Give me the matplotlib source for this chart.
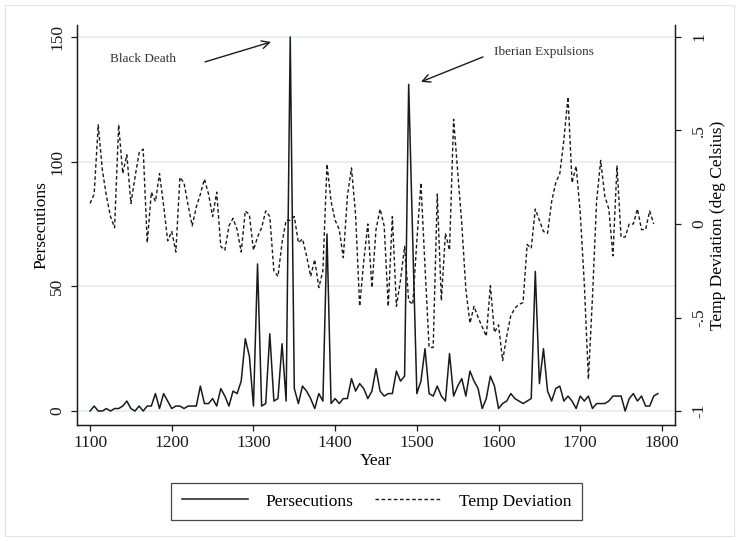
import numpy as np
import matplotlib
matplotlib.use("Agg")
import matplotlib.pyplot as plt
from matplotlib.patches import Rectangle

# ---------------- data ----------------
years_pers = np.arange(1100, 1800, 5)
persecutions = [
    0, 2, 0, 0, 1, 0, 1, 1, 2, 4, 1, 0, 2, 0, 2, 2, 7, 1, 7, 4,          # 1100-1195
    1, 2, 2, 1, 2, 2, 2, 10, 3, 3, 5, 2, 9, 6, 2, 8, 7, 12, 29, 22,      # 1200-1295
    2, 59, 2, 3, 31, 4, 5, 27, 4, 150, 9, 3, 10, 8, 5, 1, 7, 4, 71, 3,   # 1300-1395
    5, 3, 5, 5, 13, 8, 11, 9, 5, 8, 17, 8, 6, 7, 7, 16, 12, 14, 131, 68, # 1400-1495
    7, 12, 25, 7, 6, 10, 6, 4, 23, 6, 10, 13, 6, 16, 12, 9, 1, 5, 14, 10,# 1500-1595
    1, 3, 4, 7, 5, 4, 3, 4, 5, 56, 11, 25, 8, 4, 9, 10, 4, 6, 4, 1,      # 1600-1695
    6, 4, 6, 1, 3, 3, 3, 4, 6, 6, 6, 0, 5, 7, 4, 6, 2, 2, 6, 7,          # 1700-1795
]

years_temp = np.arange(1100, 1795, 5)
temp_dev = [
    0.11, 0.16, 0.53, 0.29, 0.15, 0.04, -0.02, 0.53, 0.27, 0.37,
    0.11, 0.25, 0.38, 0.40, -0.10, 0.17, 0.12, 0.27, 0.10, -0.09,     # 1100-1195
    -0.04, -0.15, 0.25, 0.22, 0.10, -0.01, 0.09, 0.16, 0.24, 0.16,
    0.04, 0.17, -0.12, -0.14, -0.01, 0.03, -0.03, -0.15, 0.07, 0.05,  # 1200-1295
    -0.14, -0.07, -0.02, 0.07, 0.04, -0.25, -0.28, -0.10, 0.02, 0.02,
    0.04, -0.10, -0.08, -0.17, -0.28, -0.19, -0.34, -0.25, 0.32, 0.12, # 1300-1395
    0.02, -0.03, -0.18, 0.15, 0.30, 0.05, -0.44, -0.20, 0.00, -0.34,
    -0.03, 0.08, -0.01, -0.44, 0.04, -0.44, -0.30, -0.12, -0.41, -0.43, # 1400-1495
    -0.09, 0.22, -0.23, -0.66, -0.66, 0.16, -0.41, -0.05, -0.14, 0.56,
    0.28, 0.00, -0.35, -0.53, -0.44, -0.50, -0.55, -0.60, -0.33, -0.58, # 1500-1595
    -0.54, -0.73, -0.60, -0.49, -0.45, -0.43, -0.42, -0.11, -0.13, 0.08,
    0.02, -0.04, -0.05, 0.12, 0.22, 0.27, 0.45, 0.68, 0.22, 0.31,       # 1600-1695
    0.06, -0.32, -0.83, -0.39, 0.12, 0.34, 0.15, 0.08, -0.17, 0.31,
    -0.07, -0.07, 0.00, 0.00, 0.08, -0.03, -0.03, 0.07, 0.00,           # 1700-1790
]

x_ticks = [1100, 1200, 1300, 1400, 1500, 1600, 1700, 1800]
left_ticks = [0, 50, 100, 150]
right_ticks = [-1, -0.5, 0, 0.5, 1]
right_tick_labels = ["-1", "-.5", "0", ".5", "1"]

# ---------------- figure ----------------
FONT = "Liberation Serif"
plt.rcParams["font.family"] = [FONT, "DejaVu Serif"]

W, H = 739, 541
fig = plt.figure(figsize=(W / 100, H / 100), dpi=100)
fig.patch.set_facecolor("white")

# faint outer border
fig.add_artist(Rectangle((5 / W, 5 / H), (W - 10) / W, (H - 10) / H,
                         transform=fig.transFigure, fill=False,
                         edgecolor="#e3e3e3", lw=0.8))

ax = fig.add_axes([77 / W, 1 - 425 / H, (675 - 77) / W, (425 - 25) / H])
ax.set_facecolor("white")

p_lo, p_hi = -5.6, 154.8
ax.set_xlim(1084, 1816)
ax.set_ylim(p_lo, p_hi)

for v in left_ticks:
    ax.axhline(v, color="#e4eef0", lw=1.2, zorder=0)

ln1, = ax.plot(years_pers, persecutions, color="#1a1a1a", lw=1.1,
               label="Persecutions", zorder=3)

ax2 = ax.twinx()
ax2.set_ylim(p_lo / 75 - 1, p_hi / 75 - 1)
ln2, = ax2.plot(years_temp, temp_dev, color="#1a1a1a", lw=1.0,
                linestyle=(0, (2.6, 1.8)), label="Temp Deviation", zorder=3)

# spines
for a in (ax, ax2):
    a.spines["top"].set_visible(False)
    for s in ("left", "right", "bottom"):
        a.spines[s].set_linewidth(0.9)
        a.spines[s].set_color("#1a1a1a")

ax.set_xticks(x_ticks)
ax.set_xticklabels([str(t) for t in x_ticks])
ax.set_yticks(left_ticks)
ax.set_yticklabels([str(t) for t in left_ticks], rotation=90, va="center")
ax2.set_yticks(right_ticks)
ax2.set_yticklabels(right_tick_labels, rotation=90, va="center")

ax.tick_params(axis="x", direction="out", length=4.5, width=0.9, pad=3,
               labelsize=12.5, colors="#1a1a1a")
ax.tick_params(axis="y", direction="out", length=4.5, width=0.9, pad=4,
               labelsize=12.5, colors="#1a1a1a")
ax2.tick_params(axis="y", direction="out", length=4.5, width=0.9, pad=7,
                labelsize=12.5, colors="#1a1a1a")

ax.set_xlabel("Year", fontsize=12.5, labelpad=1)
ax.set_ylabel("Persecutions", fontsize=12.5, labelpad=0)
ax2.set_ylabel("Temp Deviation (deg Celsius)", fontsize=12.5, labelpad=2)

# annotations
ax.annotate("", xy=(1321.5, 148), xytext=(1240.7, 140),
            arrowprops=dict(arrowstyle="->", color="#1a1a1a", lw=1.0,
                            mutation_scale=14, shrinkA=0, shrinkB=0))
ax.text(1124.5, 141.2, "Black Death", fontsize=9.5, ha="left", va="center",
        color="#333333")
ax.annotate("", xy=(1505, 132), xytext=(1581, 142),
            arrowprops=dict(arrowstyle="->", color="#1a1a1a", lw=1.0,
                            mutation_scale=14, shrinkA=0, shrinkB=0))
ax.text(1594.4, 144, "Iberian Expulsions", fontsize=9.5, ha="left",
        va="center", color="#333333")

leg = fig.legend([ln1, ln2], ["Persecutions", "Temp Deviation"], ncol=2,
                 loc="center", bbox_to_anchor=(376.5 / W, 1 - 501.5 / H),
                 frameon=True, fancybox=False, fontsize=12.5,
                 handlelength=3.8, handletextpad=1.0, columnspacing=1.3,
                 borderpad=0.6, borderaxespad=0.0)
leg.get_frame().set_edgecolor("#1a1a1a")
leg.get_frame().set_linewidth(0.9)

fig.savefig("out.png", dpi=100, facecolor="white")
